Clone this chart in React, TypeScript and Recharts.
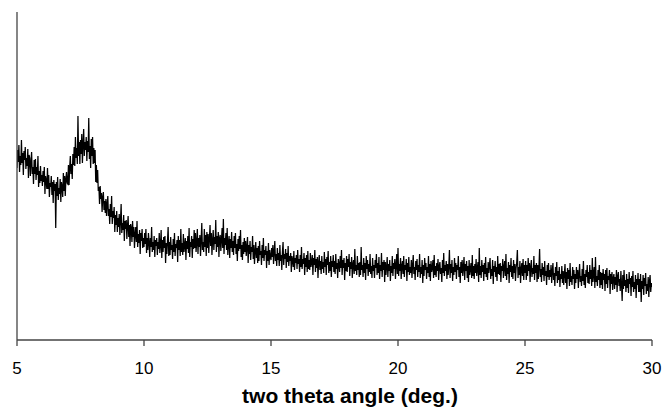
import React from 'react';
import { LineChart, Line, XAxis, YAxis } from 'recharts';

const ANGLE_START = 5;
const ANGLE_STEP = 0.025;

// intensity (arbitrary units), one value every 0.025 deg
const counts5to7p5 = [
  172, 190, 178, 195, 168, 184, 175, 200, 177, 187, 165, 189, 180, 193, 171, 182, 174, 191, 162, 185,
  182, 164, 178, 188, 166, 173, 156, 180, 166, 181, 160, 173, 165, 184, 153, 169, 157, 174, 159, 165,
  154, 169, 158, 173, 146, 164, 159, 151, 172, 151, 165, 143, 157, 153, 164, 145, 158, 137, 160, 149,
  156, 112, 158, 144, 163, 140, 152, 146, 161, 138, 158, 153, 143, 167, 149, 164, 144, 161, 168, 157,
  156, 175, 155, 173, 184, 166, 176, 161, 186, 175, 193, 174, 203, 182, 192, 176, 224, 184, 198, 176,
];
const counts7p5to10 = [
  200, 186, 206, 177, 196, 211, 184, 198, 190, 203, 179, 199, 188, 222, 181, 194, 172, 201, 184, 203,
  176, 192, 177, 190, 158, 175, 157, 170, 149, 153, 136, 154, 141, 147, 128, 143, 148, 130, 139, 127,
  141, 124, 136, 144, 124, 131, 116, 136, 123, 144, 116, 129, 122, 133, 108, 125, 115, 129, 108, 122,
  113, 126, 105, 120, 136, 107, 117, 110, 125, 99, 119, 111, 120, 101, 114, 124, 103, 115, 94, 116,
  112, 98, 119, 103, 113, 92, 106, 113, 98, 119, 93, 106, 97, 110, 86, 107, 99, 111, 92, 102,
];
const counts10to12p5 = [
  93, 107, 96, 111, 87, 102, 90, 107, 98, 83, 102, 93, 113, 88, 98, 90, 104, 83, 100, 94,
  102, 85, 98, 91, 107, 87, 96, 110, 82, 100, 88, 103, 92, 104, 77, 97, 86, 99, 113, 84,
  98, 85, 103, 90, 95, 81, 101, 88, 107, 84, 96, 92, 100, 78, 104, 90, 100, 84, 111, 88,
  97, 85, 106, 88, 95, 102, 80, 99, 91, 104, 87, 112, 83, 98, 93, 104, 82, 101, 91, 110,
  92, 107, 88, 98, 111, 86, 102, 93, 105, 84, 100, 117, 90, 98, 88, 111, 93, 105, 84, 108,
];
const counts12p5to15 = [
  92, 106, 87, 101, 115, 94, 107, 85, 100, 110, 90, 103, 96, 120, 88, 104, 93, 108, 83, 102,
  105, 89, 100, 112, 92, 121, 86, 102, 95, 107, 90, 112, 85, 97, 104, 82, 101, 92, 108, 88,
  99, 85, 104, 92, 107, 86, 96, 79, 101, 89, 104, 91, 110, 83, 95, 80, 98, 86, 102, 88,
  99, 84, 93, 103, 77, 95, 86, 99, 80, 93, 88, 104, 81, 95, 76, 89, 98, 82, 92, 77,
  94, 79, 99, 85, 89, 75, 95, 82, 102, 79, 90, 85, 94, 72, 89, 79, 97, 75, 90, 83,
];
const counts15to17p5 = [
  80, 92, 83, 95, 76, 88, 99, 79, 86, 74, 92, 80, 87, 74, 95, 79, 85, 70, 88, 98,
  75, 86, 81, 91, 72, 87, 78, 94, 74, 84, 79, 87, 68, 84, 80, 73, 89, 70, 82, 77,
  85, 71, 90, 76, 81, 68, 85, 73, 93, 71, 81, 76, 87, 65, 82, 73, 85, 68, 89, 71,
  80, 70, 87, 73, 78, 85, 65, 82, 75, 90, 68, 81, 72, 83, 62, 78, 85, 70, 79, 66,
  84, 71, 78, 67, 88, 73, 81, 65, 83, 75, 89, 67, 78, 69, 84, 63, 79, 73, 85, 68,
];
const counts17p5to20 = [
  79, 66, 86, 71, 77, 62, 81, 76, 68, 84, 72, 90, 65, 80, 72, 82, 60, 77, 69, 84,
  68, 81, 73, 86, 64, 78, 71, 83, 62, 76, 80, 66, 91, 69, 75, 65, 84, 70, 77, 63,
  78, 65, 93, 70, 75, 63, 82, 67, 77, 60, 84, 71, 80, 64, 76, 68, 86, 66, 74, 62,
  82, 69, 75, 62, 80, 72, 86, 65, 77, 67, 83, 61, 75, 69, 87, 63, 78, 70, 80, 58,
  78, 65, 73, 83, 63, 76, 69, 80, 59, 74, 67, 84, 64, 77, 71, 81, 61, 75, 86, 66,
];
const counts20to22p5 = [
  92, 64, 76, 69, 82, 61, 74, 79, 66, 84, 63, 75, 70, 81, 59, 77, 68, 83, 65, 73,
  67, 80, 62, 75, 85, 66, 73, 60, 79, 70, 81, 63, 75, 68, 86, 62, 73, 66, 80, 57,
  75, 64, 82, 70, 77, 61, 73, 67, 84, 63, 76, 59, 79, 68, 72, 80, 62, 85, 65, 74,
  63, 77, 69, 81, 60, 74, 78, 66, 72, 58, 80, 67, 87, 64, 75, 69, 79, 61, 76, 65,
  74, 90, 62, 76, 67, 80, 59, 73, 65, 82, 68, 77, 61, 75, 70, 84, 63, 73, 57, 78,
];
const counts22p5to25 = [
  67, 80, 64, 73, 83, 60, 76, 69, 79, 62, 74, 58, 80, 65, 71, 77, 62, 85, 64, 74,
  61, 76, 67, 81, 64, 72, 78, 58, 92, 65, 74, 62, 80, 68, 75, 59, 77, 66, 83, 63,
  72, 60, 78, 67, 75, 82, 61, 71, 64, 80, 56, 74, 68, 79, 63, 73, 59, 84, 66, 76,
  65, 77, 58, 74, 69, 81, 62, 73, 79, 64, 86, 60, 72, 66, 78, 57, 75, 68, 82, 63,
  74, 61, 80, 67, 76, 59, 72, 78, 90, 62, 73, 65, 79, 57, 71, 77, 64, 81, 60, 75,
];
const counts25to27p5 = [
  67, 79, 60, 75, 64, 82, 69, 77, 58, 73, 80, 63, 72, 66, 84, 60, 75, 67, 77, 58,
  75, 61, 73, 91, 63, 71, 58, 77, 65, 73, 59, 79, 64, 69, 55, 75, 63, 77, 60, 70,
  63, 75, 57, 69, 77, 60, 67, 54, 73, 64, 78, 57, 69, 60, 73, 53, 66, 61, 74, 57,
  69, 55, 66, 76, 57, 68, 51, 72, 61, 70, 54, 77, 58, 64, 55, 73, 61, 70, 51, 66,
  57, 73, 61, 70, 52, 66, 76, 58, 64, 54, 71, 59, 79, 55, 66, 52, 70, 63, 75, 57,
];
const counts27p5to30 = [
  68, 56, 75, 61, 70, 54, 82, 58, 66, 73, 52, 83, 58, 64, 54, 70, 60, 75, 52, 68,
  55, 67, 51, 71, 60, 66, 49, 70, 56, 72, 52, 64, 60, 70, 46, 66, 56, 68, 50, 62,
  66, 51, 63, 55, 70, 48, 64, 68, 54, 61, 49, 69, 56, 39, 65, 51, 70, 54, 60, 48,
  66, 52, 61, 47, 68, 56, 62, 44, 64, 53, 69, 48, 58, 51, 65, 42, 61, 55, 67, 48,
  61, 48, 66, 38, 59, 51, 65, 45, 62, 54, 67, 46, 56, 49, 63, 43, 59, 65, 48, 57,
  53,
];

const xTicks = [5, 10, 15, 20, 25, 30];
const xTitle = 'two theta angle (deg.)';

const allCounts = [
  ...counts5to7p5,
  ...counts7p5to10,
  ...counts10to12p5,
  ...counts12p5to15,
  ...counts15to17p5,
  ...counts17p5to20,
  ...counts20to22p5,
  ...counts22p5to25,
  ...counts25to27p5,
  ...counts27p5to30,
];
const data = allCounts.map((c, i) => ({
  angle: +(ANGLE_START + i * ANGLE_STEP).toFixed(3),
  counts: c,
}));

const FONT = '"Liberation Sans", Arial, Helvetica, sans-serif';

export default function App() {
  return (
    <div style={{ position: 'absolute', left: 0, top: 0, width: 663, height: 408, background: '#fff' }}>
      <LineChart
        width={663}
        height={408}
        data={data}
        margin={{ top: 12, right: 11, left: 16, bottom: 0 }}
      >
        <XAxis
          dataKey="angle"
          type="number"
          domain={[5, 30]}
          ticks={xTicks}
          allowDataOverflow
          height={68}
          tickSize={6}
          tickMargin={16}
          axisLine={{ stroke: '#444', strokeWidth: 1.3 }}
          tickLine={{ stroke: '#444', strokeWidth: 1.3 }}
          tick={{ fill: '#000', fontSize: 17, fontFamily: FONT }}
        />
        <YAxis
          width={1}
          domain={[0, 328]}
          allowDataOverflow
          tick={false}
          tickLine={false}
          axisLine={{ stroke: '#444', strokeWidth: 1.3 }}
        />
        <Line
          type="linear"
          dataKey="counts"
          stroke="#000"
          strokeWidth={1.25}
          dot={false}
          isAnimationActive={false}
        />
      </LineChart>
      <svg
        width={663}
        height={408}
        style={{ position: 'absolute', left: 0, top: 0, pointerEvents: 'none' }}
      >
        <text
          x={350}
          y={403}
          textAnchor="middle"
          fontFamily={FONT}
          fontWeight="bold"
          fontSize={21}
          fill="#000"
        >
          {xTitle}
        </text>
      </svg>
    </div>
  );
}
